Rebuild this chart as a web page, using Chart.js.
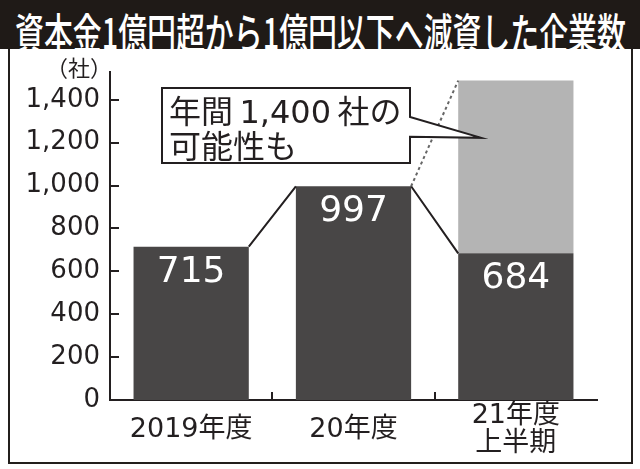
<!DOCTYPE html>
<html lang="ja">
<head>
<meta charset="utf-8">
<script src="https://cdn.jsdelivr.net/npm/chart.js@4.4.0/dist/chart.umd.min.js"></script>
<style>
html, body { margin: 0; padding: 0; background: #fff; }
#wrap { position: relative; width: 640px; height: 469px; overflow: hidden; }
#title { position: absolute; left: 0; top: 0; width: 640px; height: 49px; background: #1f1a17; }
#title span { position: absolute; left: 15px; top: 0; line-height: 49px; color: #fff;
  font: 500 42px "Noto Sans CJK JP"; white-space: nowrap; transform-origin: 0 50%; }
#frame { position: absolute; left: 8px; top: 49px; width: 621px; height: 413px;
  border: 2px solid #231f1c; border-top: none; }
#c1 { position: absolute; left: 0; top: 0; }
</style>
</head>
<body>
<div id="wrap">
  <div id="title"><span>資本金1億円超から1億円以下へ減資した企業数</span></div>
  <div id="frame"></div>
  <canvas id="c1" width="640" height="469" style="width:640px;height:469px"></canvas>
</div>
<script>
"use strict";

// data
let cats = ['2019年度', '20年度', ['21年度', '上半期']];
let actual = [715, 997, 684];          // 実績
let outlook = [null, null, 806];       // 年間見込みの上積み分 (top of grey ~1,490)
let yTicks = [0, 200, 400, 600, 800, 1000, 1200, 1400];
let yMax = 1530;

let ink = '#231f20';
let dark = '#484646';
let grey = '#b4b4b4';
let numFont = 'DejaVu Sans, "Noto Sans CJK JP"';

// title squeezed like the condensed headline type
let t = document.querySelector('#title span');
t.style.transform = `scaleX(${611 / t.offsetWidth})`;

let deco = {
    id: 'deco',
    afterDatasetsDraw(chart) {
        let ctx = chart.ctx;
        let y = chart.scales.y;
        let d0 = chart.getDatasetMeta(0).data;
        let d1 = chart.getDatasetMeta(1).data;
        let L = b => b.x - b.width / 2;
        let R = b => b.x + b.width / 2;

        ctx.save();
        // numbers in the bars
        ctx.fillStyle = '#fff';
        ctx.font = '36px ' + numFont;
        ctx.textAlign = 'center';
        ctx.textBaseline = 'alphabetic';
        d0.forEach((b, i) => ctx.fillText(String(actual[i]), b.x, b.y + 35));

        // connectors
        ctx.strokeStyle = ink;
        ctx.lineWidth = 2;
        ctx.beginPath();
        ctx.moveTo(R(d0[0]), d0[0].y);
        ctx.lineTo(L(d0[1]), d0[1].y);
        ctx.moveTo(R(d0[1]), d0[1].y);
        ctx.lineTo(L(d0[2]), d0[2].y);
        ctx.stroke();

        ctx.strokeStyle = '#666';
        ctx.setLineDash([3, 3]);
        ctx.beginPath();
        ctx.moveTo(R(d0[1]), d0[1].y);
        ctx.lineTo(L(d1[2]), d1[2].y);
        ctx.stroke();
        ctx.setLineDash([]);

        // callout
        let a = chart.chartArea;
        let bx = a.left + 52, by = a.top + 16, bw = 248, bh = 75;
        let tipX = L(d1[2]) + 23, tipY = y.getPixelForValue(1223);
        ctx.fillStyle = '#fff';
        ctx.strokeStyle = ink;
        ctx.lineWidth = 2;
        ctx.beginPath();
        ctx.moveTo(bx, by);
        ctx.lineTo(bx + bw, by);
        ctx.lineTo(bx + bw, by + 29);
        ctx.lineTo(tipX, tipY);
        ctx.lineTo(bx + bw, tipY - 1);
        ctx.lineTo(bx + bw, by + bh);
        ctx.lineTo(bx, by + bh);
        ctx.closePath();
        ctx.fill();
        ctx.stroke();

        ctx.fillStyle = ink;
        ctx.font = '32px ' + numFont;
        ctx.textAlign = 'left';
        ctx.fillText('年間\u20091,400\u2009社の', bx + 7, by + 35);
        ctx.fillText('可能性も', bx + 7, by + 70);
        ctx.restore();
    },
    afterDraw(chart) {
        let ctx = chart.ctx;
        let x = chart.scales.x;
        let y = chart.scales.y;
        let a = chart.chartArea;
        ctx.save();
        ctx.strokeStyle = ink;
        ctx.lineWidth = 2;
        ctx.beginPath();
        // inward tick marks
        y.ticks.forEach(tk => {
            if (tk.value === 0) return;
            let py = Math.round(y.getPixelForValue(tk.value));
            ctx.moveTo(a.left, py);
            ctx.lineTo(a.left + 9, py);
        });
        for (let i = 1; i < cats.length; i++) {
            let px = Math.round((x.getPixelForValue(i - 1) + x.getPixelForValue(i)) / 2);
            ctx.moveTo(px, a.bottom);
            ctx.lineTo(px, a.bottom - 8);
        }
        ctx.stroke();

        // unit
        ctx.fillStyle = ink;
        ctx.font = '22px "Noto Sans CJK JP"';
        ctx.textAlign = 'right';
        ctx.textBaseline = 'middle';
        ctx.fillText('（社）', a.left + 2, a.top - 4);
        ctx.restore();
    }
};

let c1 = document.querySelector('#c1');
let opts = {
    type: 'bar',
    data: {
        labels: cats,
        datasets: [
            { data: actual, backgroundColor: dark, categoryPercentage: 1, barPercentage: 0.71 },
            { data: outlook, backgroundColor: grey, categoryPercentage: 1, barPercentage: 0.71 },
        ],
    },
    options: {
        responsive: false,
        animation: false,
        devicePixelRatio: 1,
        layout: { padding: { left: 0, right: 43, top: 72, bottom: 0 } },
        plugins: { legend: { display: false }, tooltip: { enabled: false } },
        scales: {
            x: {
                stacked: true,
                grid: { display: false, drawTicks: false },
                border: { display: true, color: ink, width: 2 },
                ticks: {
                    color: ink, padding: 16, maxRotation: 0, autoSkip: false, crossAlign: 'center',
                    font: { size: 27, family: numFont, lineHeight: 1.05 },
                },
                afterFit(s) { s.height = 69; },
            },
            y: {
                stacked: true,
                min: 0,
                max: yMax,
                grid: { display: false, drawTicks: false },
                border: { display: true, color: ink, width: 2 },
                ticks: {
                    color: ink, padding: 10, autoSkip: false,
                    font: { size: 26, family: numFont },
                    callback: v => v.toLocaleString('en-US'),
                },
                afterBuildTicks(s) { s.ticks = yTicks.map(v => ({ value: v })); },
                afterFit(s) { s.width = 110; },
            },
        },
    },
    plugins: [deco],
};
let chart1 = new Chart(c1, opts);
</script>
</body>
</html>
